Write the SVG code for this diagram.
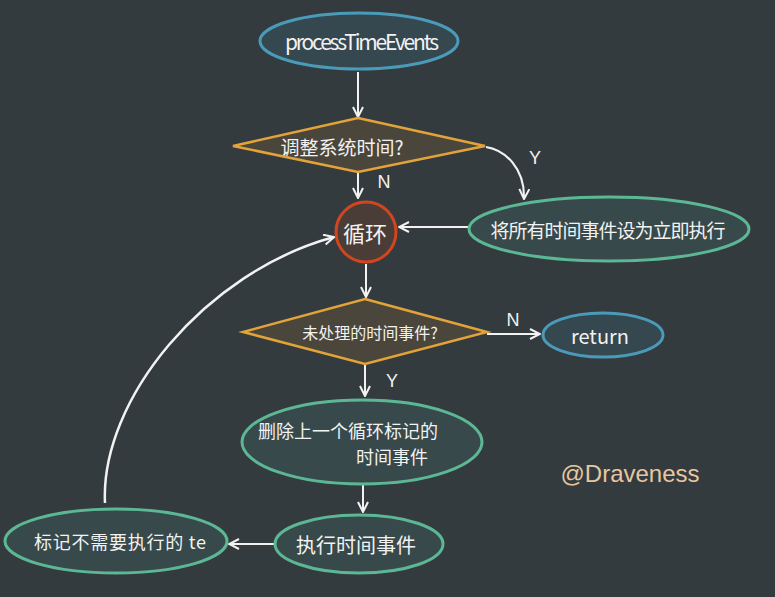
<svg xmlns="http://www.w3.org/2000/svg" width="775" height="597" viewBox="0 0 775 597">
<style>
.t{fill:#f2f2f2;font-family:"Noto Sans CJK SC","Liberation Sans",sans-serif;text-anchor:middle;dominant-baseline:central}
.blue{fill:#35474f;stroke:#4a9ab9;stroke-width:3}
.green{fill:#37494a;stroke:#5cb894;stroke-width:3}
.dia{fill:#4a463b;stroke:#e2a33a;stroke-width:2.5}
.conn{fill:none;stroke:#f2f2f2;stroke-width:2;marker-end:url(#ah)}
.lbl{fill:#f2f2f2;font-family:"Liberation Sans",sans-serif;font-size:18px;text-anchor:middle;dominant-baseline:central}
</style>
<defs>
<marker id="ah" viewBox="0 0 12 12" refX="11" refY="6" markerWidth="12" markerHeight="12" markerUnits="userSpaceOnUse" orient="auto">
<path d="M1,1 L11,6 L1,11" fill="none" stroke="#f2f2f2" stroke-width="2"/>
</marker>
</defs>
<rect width="775" height="597" fill="#343b3e"/>
<g id="connectors">
<path class="conn" d="M358,72 L358,117"/>
<path class="conn" d="M358,173 L358,198"/>
<path class="conn" d="M486,147 C505,150 525,168 524,199"/>
<path class="conn" d="M468,227 L399,227"/>
<path class="conn" d="M366,264 L366,297"/>
<path class="conn" d="M487,334 L540,334"/>
<path class="conn" d="M365,365 L365,396"/>
<path class="conn" d="M363,485 L363,512"/>
<path class="conn" d="M275,544 L229,544"/>
<path class="conn" style="stroke-width:2.5" d="M105,503 C100,400 205,272 334,237"/>
<text class="lbl" x="384" y="182">N</text>
<text class="lbl" x="535" y="158">Y</text>
<text class="lbl" x="513" y="320">N</text>
<text class="lbl" x="392" y="381">Y</text>
</g>
<g id="n_start">
<ellipse class="blue" cx="359" cy="41" rx="99" ry="28"/>
<text class="t" x="362" y="41" font-size="21" textLength="154" font-family="Liberation Sans">processTimeEvents</text>
</g>
<g id="n_adjust">
<polygon class="dia" points="358,118 485,146 358,172 233,146"/>
<text class="t" x="342" y="146" font-size="19">调整系统时间?</text>
</g>
<g id="n_loop">
<circle cx="366" cy="232" r="30" fill="#4a3d38" stroke="#d2461f" stroke-width="3"/>
<text class="t" x="365" y="232" font-size="22">循环</text>
</g>
<g id="n_setall">
<ellipse class="green" cx="609" cy="229" rx="140" ry="32"/>
<text class="t" x="608" y="229" font-size="19" textLength="235">将所有时间事件设为立即执行</text>
</g>
<g id="n_unhandled">
<polygon class="dia" points="365,299 487,332 365,364 243,332"/>
<text class="t" x="370" y="332" font-size="16">未处理的时间事件?</text>
</g>
<g id="n_return">
<ellipse class="blue" cx="603" cy="335" rx="60" ry="22"/>
<text class="t" x="600" y="335" font-size="20" font-family="Liberation Sans">return</text>
</g>
<g id="n_delete">
<ellipse class="green" cx="362" cy="442" rx="120" ry="42"/>
<text class="t" x="348" y="430" font-size="18" textLength="180">删除上一个循环标记的</text>
<text class="t" x="392" y="456" font-size="18">时间事件</text>
</g>
<g id="n_exec">
<ellipse class="green" cx="359" cy="544" rx="84" ry="29"/>
<text class="t" x="356" y="544" font-size="20">执行时间事件</text>
</g>
<g id="n_mark">
<ellipse class="green" cx="116" cy="541" rx="111" ry="32"/>
<text class="t" x="120" y="541" font-size="18" textLength="172">标记不需要执行的 te</text>
</g>
<text x="630" y="473" font-family="Liberation Sans,sans-serif" font-size="24" fill="#e6c7a0" text-anchor="middle" dominant-baseline="central">@Draveness</text>
</svg>
